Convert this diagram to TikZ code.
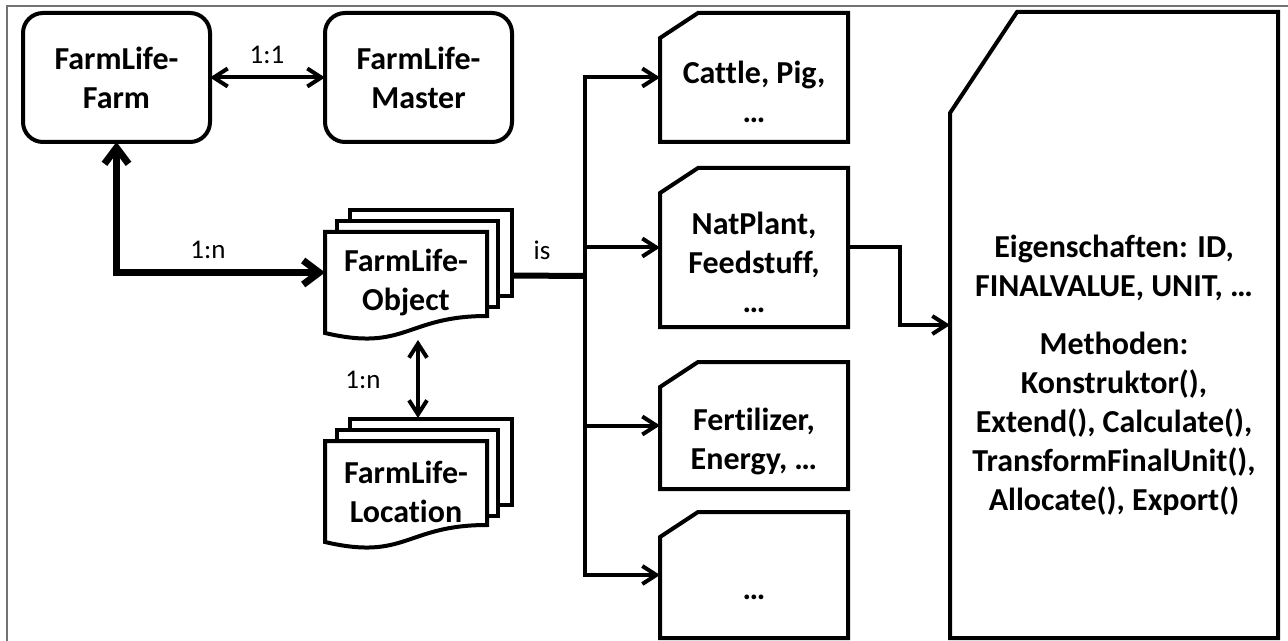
\documentclass[tikz,border=0pt]{standalone}
\usepackage{fontspec}
\setmainfont{Carlito}[Ligatures=NoCommon]
\usetikzlibrary{arrows.meta,calc,positioning}

\tikzset{
  box/.style={draw, line width=2pt, fill=white},
  rbox/.style={box, rounded corners=10pt, minimum width=93.5pt, minimum height=64.5pt,
    inner sep=0pt, outer sep=0pt, font=\bfseries\fontsize{16}{19.5}\selectfont, align=center},
  cardshape/.style={inner sep=0pt, outer sep=0pt, minimum width=94pt},
  boldtext/.style={font=\bfseries\fontsize{16}{19.5}\selectfont, align=center, inner sep=0pt, outer sep=0pt},
  rel/.style={font=\fontsize{13.5}{16}\selectfont, inner sep=0pt},
  conn/.style={line width=2pt},
  strong/.style={line width=3.5pt, >={Straight Barb[length=8pt,width=12pt]}, <->},
}

\begin{document}
\begin{tikzpicture}[x=0.5pt, y=-0.5pt, >={Straight Barb[length=7pt,width=9pt]}]
  \useasboundingbox (0,0) rectangle (1288,641);
  \draw[black!55, line width=1pt] (7,641) -- (7,6.5) -- (1288,6.5);

  % farm and master
  \node[rbox] (farm) at (116.5,77.5) {FarmLife-\\Farm};
  \node[rbox] (master) at (418.5,77.5) {FarmLife-\\Master};

  % stacked documents
  \foreach \n/\x/\y/\lbl in {obj/325/232/Object, loc/325/441/Location} {
    \draw[box] (\x+25,\y-22) rectangle (\x+187,\y+64);
    \draw[box] (\x+12,\y-11) rectangle (\x+173,\y+75);
    \draw[box] (\x,\y) -- (\x+162,\y) -- (\x+162,\y+84)
      .. controls (\x+81,\y+84) and (\x+81,\y+120) .. (\x,\y+101) -- cycle;
    \node[boldtext, minimum width=81pt, minimum height=50.5pt] (\n) at (\x+81,\y+50.5) {FarmLife-\\\lbl};
  }

  % cards
  \node[cardshape, minimum height=64.5pt] (cattle) at (754,77.5) {};
  \node[cardshape, minimum height=79.5pt] (natplant) at (754,247.5) {};
  \node[cardshape, minimum height=63.5pt] (fert) at (754,425.5) {};
  \node[cardshape, minimum height=63pt] (etc) at (754,575) {};
  \node[cardshape, minimum width=164pt, minimum height=313pt] (props) at (1114,325) {};
  \foreach \n/\cx/\cy in {cattle/38/25, natplant/38/25, fert/38/25, etc/38/25, props/67/101}
    \draw[box] ($(\n.north west)+(0,\cy)$) -- ($(\n.north west)+(\cx,0)$) -- (\n.north east)
      -- (\n.south east) -- (\n.south west) -- cycle;

  \node[boldtext] (cattle-t) at ([yshift=-7pt]cattle.center) {Cattle, Pig,\\…};
  \node[boldtext] (natplant-t) at ([yshift=-7.5pt]natplant.center) {NatPlant,\\Feedstuff,\\…};
  \node[boldtext] (fert-t) at ([yshift=-8pt]fert.center) {Fertilizer,\\Energy, …};
  \node[boldtext] (etc-t) at ([yshift=-11pt]etc.center) {…};
  \node[boldtext] (props-t) at ([yshift=-25pt]props.center) {Eigenschaften: ID,\\FINALVALUE, UNIT, …\\[9.5pt]
    Methoden:\\Konstruktor(),\\Extend(), Calculate(),\\TransformFinalUnit(),\\Allocate(), Export()};

  % connectors
  \draw[conn, <->] (farm.east) -- (master.west);
  \node[rel] (l11) at (267,55) {1:1};
  \draw[strong] (farm.south) |- ([yshift=5pt]obj.west);
  \node[rel] (l1n) at (208,250) {1:n};
  \draw[conn, <->] ([xshift=6pt,yshift=-3.5pt]obj.south) -- ([xshift=6pt,yshift=11.5pt]loc.north);
  \node[rel] (l1n2) at (363,380) {1:n};

  \coordinate (bus) at (585,276);
  \draw[line width=3pt] ([xshift=12.5pt,yshift=3.5pt]obj.east) -- (bus);
  \node[rel] (is) at (542,250) {is};
  \foreach \c in {cattle, natplant, fert, etc}
    \draw[conn, ->] (bus) |- (\c.west);
  \draw[conn, ->] (natplant.east) -- ++(52,0) |- (props.west);
\end{tikzpicture}
\end{document}
